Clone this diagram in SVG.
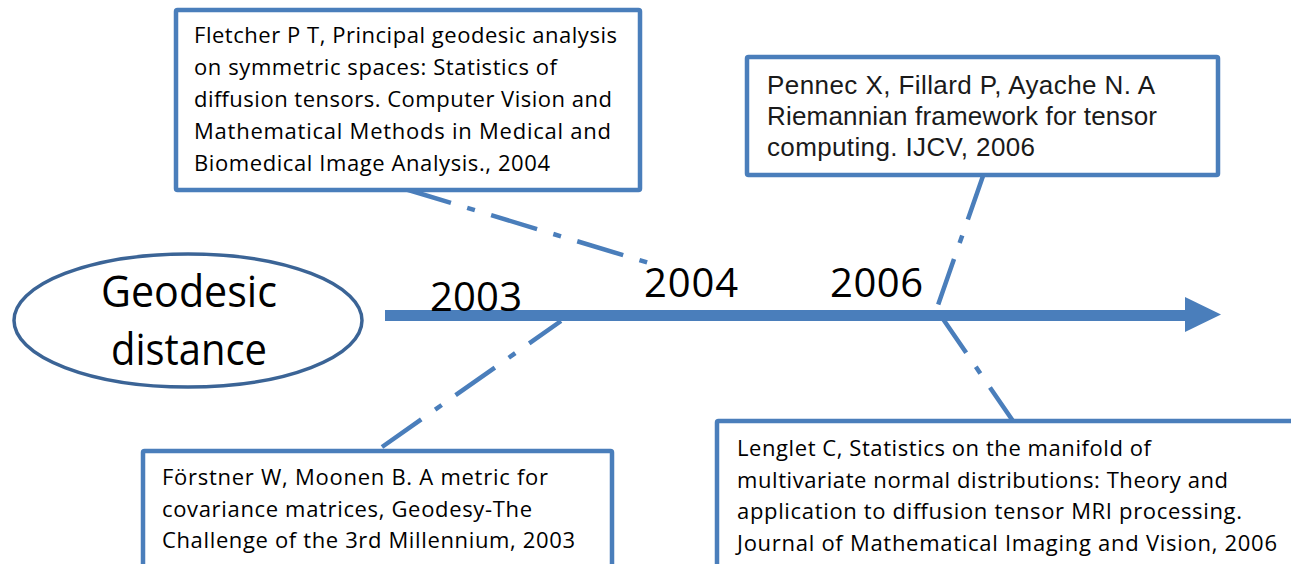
<svg xmlns="http://www.w3.org/2000/svg" width="1291" height="564" viewBox="0 0 1291 564">
  <defs>
    <style>
      .box { fill: #ffffff; stroke: #4A7EBB; stroke-width: 4.5; }
      .conn { fill: none; stroke: #4A7EBB; stroke-width: 4.5; stroke-dasharray: 48 17 8 17; }
      .cal { font-family: "Open Sans", "Noto Sans", "Liberation Sans", sans-serif; fill: #000000; }
      .ref { font-size: 22px; }
      .ari { font-family: "Liberation Sans", Arial, sans-serif; font-size: 26px; fill: #1a1a1a; }
      .year { font-size: 40px; }
      .big { font-size: 44px; }
    </style>
  </defs>
  <rect x="0" y="0" width="1291" height="564" fill="#ffffff"/>

  <g id="connectors">
    <line class="conn" x1="405" y1="189" x2="649" y2="263"/>
    <line class="conn" x1="382" y1="447" x2="561" y2="321"/>
    <line class="conn" x1="983" y1="176" x2="938" y2="305" stroke-dashoffset="2"/>
    <line class="conn" x1="943" y1="319" x2="1013" y2="421" stroke-dashoffset="7"/>
  </g>

  <g id="axis">
    <line x1="385" y1="315.5" x2="1188" y2="315.5" stroke="#4A7EBB" stroke-width="11"/>
    <polygon points="1185,297 1221,314.5 1185,332" fill="#4A7EBB"/>
  </g>

  <g id="years" class="cal year">
    <text x="430" y="311" textLength="92">2003</text>
    <text x="644" y="297" textLength="94">2004</text>
    <text x="830" y="297" textLength="93">2006</text>
  </g>

  <g id="node-geodesic">
    <ellipse cx="188" cy="320.5" rx="174" ry="66.5" fill="#ffffff" stroke="#3B6496" stroke-width="3.5"/>
    <text class="cal big" x="101" y="307" textLength="176" lengthAdjust="spacingAndGlyphs">Geodesic</text>
    <text class="cal big" x="111" y="365" textLength="156" lengthAdjust="spacingAndGlyphs">distance</text>
  </g>

  <g id="node-fletcher">
    <rect class="box" x="176" y="10" width="464" height="180" rx="1.5"/>
    <text class="cal ref" x="194" y="43" textLength="423">Fletcher P T, Principal geodesic analysis</text>
    <text class="cal ref" x="194" y="75" textLength="363">on symmetric spaces: Statistics of</text>
    <text class="cal ref" x="194" y="107" textLength="418">diffusion tensors. Computer Vision and</text>
    <text class="cal ref" x="194" y="139" textLength="417">Mathematical Methods in Medical and</text>
    <text class="cal ref" x="194" y="171" textLength="356">Biomedical Image Analysis., 2004</text>
  </g>

  <g id="node-pennec">
    <rect class="box" x="747" y="57" width="471" height="118" rx="1.5"/>
    <text class="ari" x="767" y="94" textLength="388">Pennec X, Fillard P, Ayache N. A</text>
    <text class="ari" x="767" y="125" textLength="390">Riemannian framework for tensor</text>
    <text class="ari" x="767" y="156" textLength="268">computing. IJCV, 2006</text>
  </g>

  <g id="node-forstner">
    <rect class="box" x="143" y="451" width="469" height="140" rx="1.5"/>
    <text class="cal ref" x="162" y="485" textLength="386">Förstner W, Moonen B. A metric for</text>
    <text class="cal ref" x="162" y="517" textLength="370">covariance matrices, Geodesy-The</text>
    <text class="cal ref" x="162" y="548" textLength="413">Challenge of the 3rd Millennium, 2003</text>
  </g>

  <g id="node-lenglet">
    <rect class="box" x="717" y="421" width="600" height="170" rx="1.5"/>
    <text class="cal ref" x="737" y="456" textLength="414">Lenglet C, Statistics on the manifold of</text>
    <text class="cal ref" x="737" y="488" textLength="491">multivariate normal distributions: Theory and</text>
    <text class="cal ref" x="737" y="519" textLength="505">application to diffusion tensor MRI processing.</text>
    <text class="cal ref" x="737" y="551" textLength="540">Journal of Mathematical Imaging and Vision, 2006</text>
  </g>
</svg>
